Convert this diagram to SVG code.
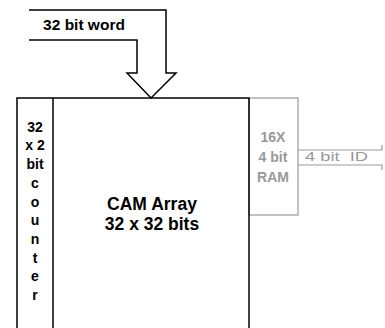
<svg xmlns="http://www.w3.org/2000/svg" width="385" height="328" viewBox="0 0 385 328">
<style>
.blk{fill:none;stroke:#000;stroke-width:1.5}
.gry{fill:none;stroke:#999;stroke-width:1.2}
.t{font-family:"Liberation Sans",Arial,sans-serif;font-weight:bold;fill:#000;text-anchor:middle}
.tg{font-family:"Liberation Sans",Arial,sans-serif;font-weight:bold;fill:#999;text-anchor:middle}
</style>
<rect width="385" height="328" fill="#fff"/>
<g id="input-arrow">
<path class="blk" d="M29,10 H166 V73 H176 L151,98 L127,73 H137 V40 H29"/>
<text class="t" x="84" y="30" font-size="15.5">32 bit word</text>
</g>
<g id="ram">
<rect class="gry" x="249" y="98" width="49" height="117"/>
<text class="tg" x="273" y="142" font-size="14">16X</text>
<text class="tg" x="273" y="162" font-size="14">4 bit</text>
<text class="tg" x="273" y="182" font-size="14">RAM</text>
</g>
<g id="cam-array">
<rect class="blk" x="17" y="98" width="232" height="250"/>
<text class="t" x="152" y="210" font-size="17.5">CAM Array</text>
<text class="t" x="152" y="230" font-size="17.5">32 x 32 bits</text>
</g>
<g id="counter">
<line class="blk" x1="53" y1="98" x2="53" y2="340"/>
<g class="t" font-size="14">
<text x="35" y="132">32</text>
<text x="35" y="150">x 2</text>
<text x="35" y="169">bit</text>
<text x="35" y="188">c</text>
<text x="35" y="207">o</text>
<text x="35" y="225">u</text>
<text x="35" y="244">n</text>
<text x="35" y="263">t</text>
<text x="35" y="281">e</text>
<text x="35" y="300">r</text>
</g>
</g>
<g id="connectors">
<path class="gry" d="M298,150 H382 V145 M298,165 H382 V170"/>
<text x="305" y="161" font-family="'Liberation Sans',Arial,sans-serif" font-size="13.5" fill="#999" xml:space="preserve" textLength="63" lengthAdjust="spacingAndGlyphs">4 bit  ID</text>
</g>
</svg>
